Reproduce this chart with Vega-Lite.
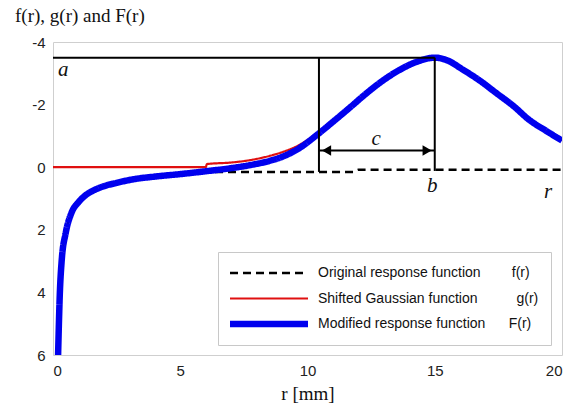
{
  "$schema": "https://vega.github.io/schema/vega-lite/v6.json",
  "width": 509,
  "height": 313,
  "autosize": {"type": "none"},
  "padding": {"left": 53, "top": 42, "right": 16, "bottom": 54},
  "background": "white",
  "title": {
    "text": "f(r), g(r) and F(r)",
    "anchor": "start",
    "frame": "group",
    "dx": -38,
    "offset": 9,
    "font": "Liberation Serif",
    "fontSize": 19,
    "fontWeight": "normal",
    "color": "#111"
  },
  "config": {
    "view": {"stroke": "#cfcfcf", "strokeWidth": 1},
    "axis": {
      "domain": false,
      "grid": false,
      "ticks": false,
      "labelFont": "Liberation Sans",
      "labelFontSize": 15,
      "labelColor": "#222",
      "labelPadding": 8
    },
    "legend": {
      "orient": "none",
      "legendX": 165,
      "legendY": 210,
      "padding": 12,
      "strokeColor": "#c8c8c8",
      "fillColor": "white",
      "symbolType": "stroke",
      "symbolSize": 289,
      "clipHeight": 18,
      "rowPadding": 7.5,
      "labelFont": "Liberation Sans",
      "labelFontSize": 14,
      "labelColor": "#111",
      "labelLimit": 400,
      "labelOffset": 74
    }
  },
  "datasets": {
    "curves": [
      {"r": 0.2, "v": 6, "s": "Original response function  f(r)"},
      {"r": 0.27, "v": 4, "s": "Original response function  f(r)"},
      {"r": 0.34, "v": 3, "s": "Original response function  f(r)"},
      {"r": 0.5, "v": 2.1, "s": "Original response function  f(r)"},
      {"r": 0.73, "v": 1.45, "s": "Original response function  f(r)"},
      {"r": 1.0, "v": 1.12, "s": "Original response function  f(r)"},
      {"r": 1.2, "v": 0.95, "s": "Original response function  f(r)"},
      {"r": 1.5, "v": 0.78, "s": "Original response function  f(r)"},
      {"r": 1.85, "v": 0.65, "s": "Original response function  f(r)"},
      {"r": 2.5, "v": 0.5, "s": "Original response function  f(r)"},
      {"r": 3.2, "v": 0.38, "s": "Original response function  f(r)"},
      {"r": 4.0, "v": 0.3, "s": "Original response function  f(r)"},
      {"r": 5.0, "v": 0.22, "s": "Original response function  f(r)"},
      {"r": 6.0, "v": 0.16, "s": "Original response function  f(r)"},
      {"r": 6.8, "v": 0.15, "s": "Original response function  f(r)"},
      {"r": 11.8, "v": 0.15, "s": "Original response function  f(r)"},
      {"r": 12.0, "v": 0.08, "s": "Original response function  f(r)"},
      {"r": 20.0, "v": 0.08, "s": "Original response function  f(r)"},

      {"r": 0, "v": 0, "s": "Shifted Gaussian function  g(r)"},
      {"r": 6.0, "v": 0, "s": "Shifted Gaussian function  g(r)"},
      {"r": 6.05, "v": -0.1, "s": "Shifted Gaussian function  g(r)"},
      {"r": 7.0, "v": -0.15, "s": "Shifted Gaussian function  g(r)"},
      {"r": 7.7, "v": -0.22, "s": "Shifted Gaussian function  g(r)"},
      {"r": 8.5, "v": -0.36, "s": "Shifted Gaussian function  g(r)"},
      {"r": 9.0, "v": -0.48, "s": "Shifted Gaussian function  g(r)"},
      {"r": 9.7, "v": -0.72, "s": "Shifted Gaussian function  g(r)"},
      {"r": 10.4, "v": -1.1, "s": "Shifted Gaussian function  g(r)"},
      {"r": 11.0, "v": -1.47, "s": "Shifted Gaussian function  g(r)"},
      {"r": 11.7, "v": -1.94, "s": "Shifted Gaussian function  g(r)"},
      {"r": 12.3, "v": -2.36, "s": "Shifted Gaussian function  g(r)"},
      {"r": 13.0, "v": -2.8, "s": "Shifted Gaussian function  g(r)"},
      {"r": 13.6, "v": -3.11, "s": "Shifted Gaussian function  g(r)"},
      {"r": 14.3, "v": -3.38, "s": "Shifted Gaussian function  g(r)"},
      {"r": 15.0, "v": -3.5, "s": "Shifted Gaussian function  g(r)"},
      {"r": 15.5, "v": -3.42, "s": "Shifted Gaussian function  g(r)"},
      {"r": 16.1, "v": -3.13, "s": "Shifted Gaussian function  g(r)"},
      {"r": 16.8, "v": -2.76, "s": "Shifted Gaussian function  g(r)"},
      {"r": 17.4, "v": -2.39, "s": "Shifted Gaussian function  g(r)"},
      {"r": 18.1, "v": -1.96, "s": "Shifted Gaussian function  g(r)"},
      {"r": 18.7, "v": -1.53, "s": "Shifted Gaussian function  g(r)"},
      {"r": 19.4, "v": -1.15, "s": "Shifted Gaussian function  g(r)"},
      {"r": 20.0, "v": -0.86, "s": "Shifted Gaussian function  g(r)"},

      {"r": 0.2, "v": 6, "s": "Modified response function F(r)"},
      {"r": 0.27, "v": 4, "s": "Modified response function F(r)"},
      {"r": 0.34, "v": 3, "s": "Modified response function F(r)"},
      {"r": 0.5, "v": 2.1, "s": "Modified response function F(r)"},
      {"r": 0.73, "v": 1.45, "s": "Modified response function F(r)"},
      {"r": 1.0, "v": 1.12, "s": "Modified response function F(r)"},
      {"r": 1.2, "v": 0.95, "s": "Modified response function F(r)"},
      {"r": 1.5, "v": 0.78, "s": "Modified response function F(r)"},
      {"r": 1.85, "v": 0.65, "s": "Modified response function F(r)"},
      {"r": 2.5, "v": 0.5, "s": "Modified response function F(r)"},
      {"r": 3.2, "v": 0.38, "s": "Modified response function F(r)"},
      {"r": 4.0, "v": 0.3, "s": "Modified response function F(r)"},
      {"r": 5.0, "v": 0.22, "s": "Modified response function F(r)"},
      {"r": 6.0, "v": 0.13, "s": "Modified response function F(r)"},
      {"r": 7.0, "v": 0.03, "s": "Modified response function F(r)"},
      {"r": 7.7, "v": -0.06, "s": "Modified response function F(r)"},
      {"r": 8.5, "v": -0.2, "s": "Modified response function F(r)"},
      {"r": 9.0, "v": -0.33, "s": "Modified response function F(r)"},
      {"r": 9.7, "v": -0.62, "s": "Modified response function F(r)"},
      {"r": 10.4, "v": -1.05, "s": "Modified response function F(r)"},
      {"r": 11.0, "v": -1.45, "s": "Modified response function F(r)"},
      {"r": 11.7, "v": -1.93, "s": "Modified response function F(r)"},
      {"r": 12.3, "v": -2.35, "s": "Modified response function F(r)"},
      {"r": 13.0, "v": -2.79, "s": "Modified response function F(r)"},
      {"r": 13.6, "v": -3.1, "s": "Modified response function F(r)"},
      {"r": 14.3, "v": -3.37, "s": "Modified response function F(r)"},
      {"r": 15.0, "v": -3.5, "s": "Modified response function F(r)"},
      {"r": 15.5, "v": -3.41, "s": "Modified response function F(r)"},
      {"r": 16.1, "v": -3.12, "s": "Modified response function F(r)"},
      {"r": 16.8, "v": -2.75, "s": "Modified response function F(r)"},
      {"r": 17.4, "v": -2.38, "s": "Modified response function F(r)"},
      {"r": 18.1, "v": -1.95, "s": "Modified response function F(r)"},
      {"r": 18.7, "v": -1.52, "s": "Modified response function F(r)"},
      {"r": 19.4, "v": -1.15, "s": "Modified response function F(r)"},
      {"r": 20.0, "v": -0.85, "s": "Modified response function F(r)"}
    ],
    "rules": [
      {"x1": 0, "x2": 15, "y1": -3.5, "y2": -3.5},
      {"x1": 10.45, "x2": 10.45, "y1": -3.5, "y2": 0.15},
      {"x1": 15, "x2": 15, "y1": -3.5, "y2": 0.12},
      {"x1": 10.45, "x2": 15, "y1": -0.53, "y2": -0.53}
    ],
    "arrows": [
      {"x": 10.75, "y": -0.53, "dir": "left"},
      {"x": 14.7, "y": -0.53, "dir": "right"}
    ],
    "labels": [
      {"x": 0.4, "y": -3.1, "t": "a"},
      {"x": 12.7, "y": -0.9, "t": "c"},
      {"x": 14.9, "y": 0.6, "t": "b"},
      {"x": 19.45, "y": 0.8, "t": "r"}
    ]
  },
  "encoding": {
    "x": {
      "type": "quantitative",
      "scale": {"domain": [0, 20], "nice": false},
      "axis": {"values": [0, 5, 10, 15, 20], "title": "r [mm]", "titleFont": "Liberation Serif", "titleFontSize": 19, "titleFontWeight": "normal", "titleColor": "#111", "titlePadding": 6}
    },
    "y": {
      "type": "quantitative",
      "scale": {"domain": [-4, 6], "nice": false, "reverse": true},
      "axis": {"values": [-4, -2, 0, 2, 4, 6], "title": null, "labelExpr": "datum.value < 0 ? '-' + (-datum.value) : datum.label"}
    }
  },
  "layer": [
    {
      "data": {"name": "curves"},
      "transform": [{"filter": "datum.s == 'Original response function  f(r)'"}],
      "mark": {"type": "line", "clip": true, "strokeWidth": 2.5, "interpolate": "monotone"},
      "encoding": {
        "x": {"field": "r", "type": "quantitative"},
        "y": {"field": "v", "type": "quantitative"},
        "color": {"field": "s", "type": "nominal", "scale": {"domain": ["Original response function  f(r)", "Shifted Gaussian function  g(r)", "Modified response function F(r)"], "range": ["#000000", "#e01010", "#0000ee"]},
          "legend": {"title": null,
            "labelExpr": "datum.value == 'Original response function  f(r)' ? 'Original response function\u00a0\u00a0\u00a0\u00a0\u00a0\u00a0\u00a0\u00a0f(r)\u00a0\u00a0\u00a0' : (datum.value == 'Shifted Gaussian function  g(r)' ? 'Shifted Gaussian function\u00a0\u00a0\u00a0\u00a0\u00a0\u00a0\u00a0\u00a0\u00a0\u00a0g(r)\u00a0\u00a0\u00a0' : 'Modified response function\u00a0\u00a0\u00a0\u00a0\u00a0\u00a0F(r)\u00a0\u00a0\u00a0')",
            "encode": {"symbols": {"update": {"size": {"value": 6084}, "x": {"value": 39}, "strokeWidth": {"signal": "datum.value == 'Modified response function F(r)' ? 6.5 : (datum.value == 'Shifted Gaussian function  g(r)' ? 2.2 : 2.5)"}}}}}},
        "strokeDash": {"field": "s", "type": "nominal", "scale": {"domain": ["Original response function  f(r)", "Shifted Gaussian function  g(r)", "Modified response function F(r)"], "range": [[8, 5], [1, 0], [1, 0]]}, "legend": {"title": null}}
      }
    },
    {
      "data": {"name": "curves"},
      "transform": [{"filter": "datum.s == 'Shifted Gaussian function  g(r)'"}],
      "mark": {"type": "line", "clip": true, "strokeWidth": 2.2, "interpolate": "monotone"},
      "encoding": {
        "x": {"field": "r", "type": "quantitative"},
        "y": {"field": "v", "type": "quantitative"},
        "color": {"field": "s", "type": "nominal"},
        "strokeDash": {"field": "s", "type": "nominal"}
      }
    },
    {
      "data": {"name": "curves"},
      "transform": [{"filter": "datum.s == 'Modified response function F(r)'"}],
      "mark": {"type": "line", "clip": true, "strokeWidth": 6.5, "interpolate": "monotone"},
      "encoding": {
        "x": {"field": "r", "type": "quantitative"},
        "y": {"field": "v", "type": "quantitative"},
        "color": {"field": "s", "type": "nominal"},
        "strokeDash": {"field": "s", "type": "nominal"}
      }
    },
    {
      "data": {"name": "rules"},
      "mark": {"type": "rule", "color": "#000", "strokeWidth": 2},
      "encoding": {
        "x": {"field": "x1", "type": "quantitative"},
        "x2": {"field": "x2"},
        "y": {"field": "y1", "type": "quantitative"},
        "y2": {"field": "y2"}
      }
    },
    {
      "data": {"name": "arrows"},
      "mark": {"type": "point", "filled": true, "color": "#000", "opacity": 1, "size": 110},
      "encoding": {
        "x": {"field": "x", "type": "quantitative"},
        "y": {"field": "y", "type": "quantitative"},
        "shape": {"field": "dir", "type": "nominal", "scale": {"domain": ["left", "right"], "range": ["triangle-left", "triangle-right"]}, "legend": null}
      }
    },
    {
      "data": {"name": "labels"},
      "mark": {"type": "text", "font": "Liberation Serif", "fontStyle": "italic", "fontSize": 21, "color": "#111", "align": "center", "baseline": "middle"},
      "encoding": {
        "x": {"field": "x", "type": "quantitative"},
        "y": {"field": "y", "type": "quantitative"},
        "text": {"field": "t"}
      }
    }
  ],
  "resolve": {"scale": {"color": "shared", "strokeDash": "shared"}}
}
